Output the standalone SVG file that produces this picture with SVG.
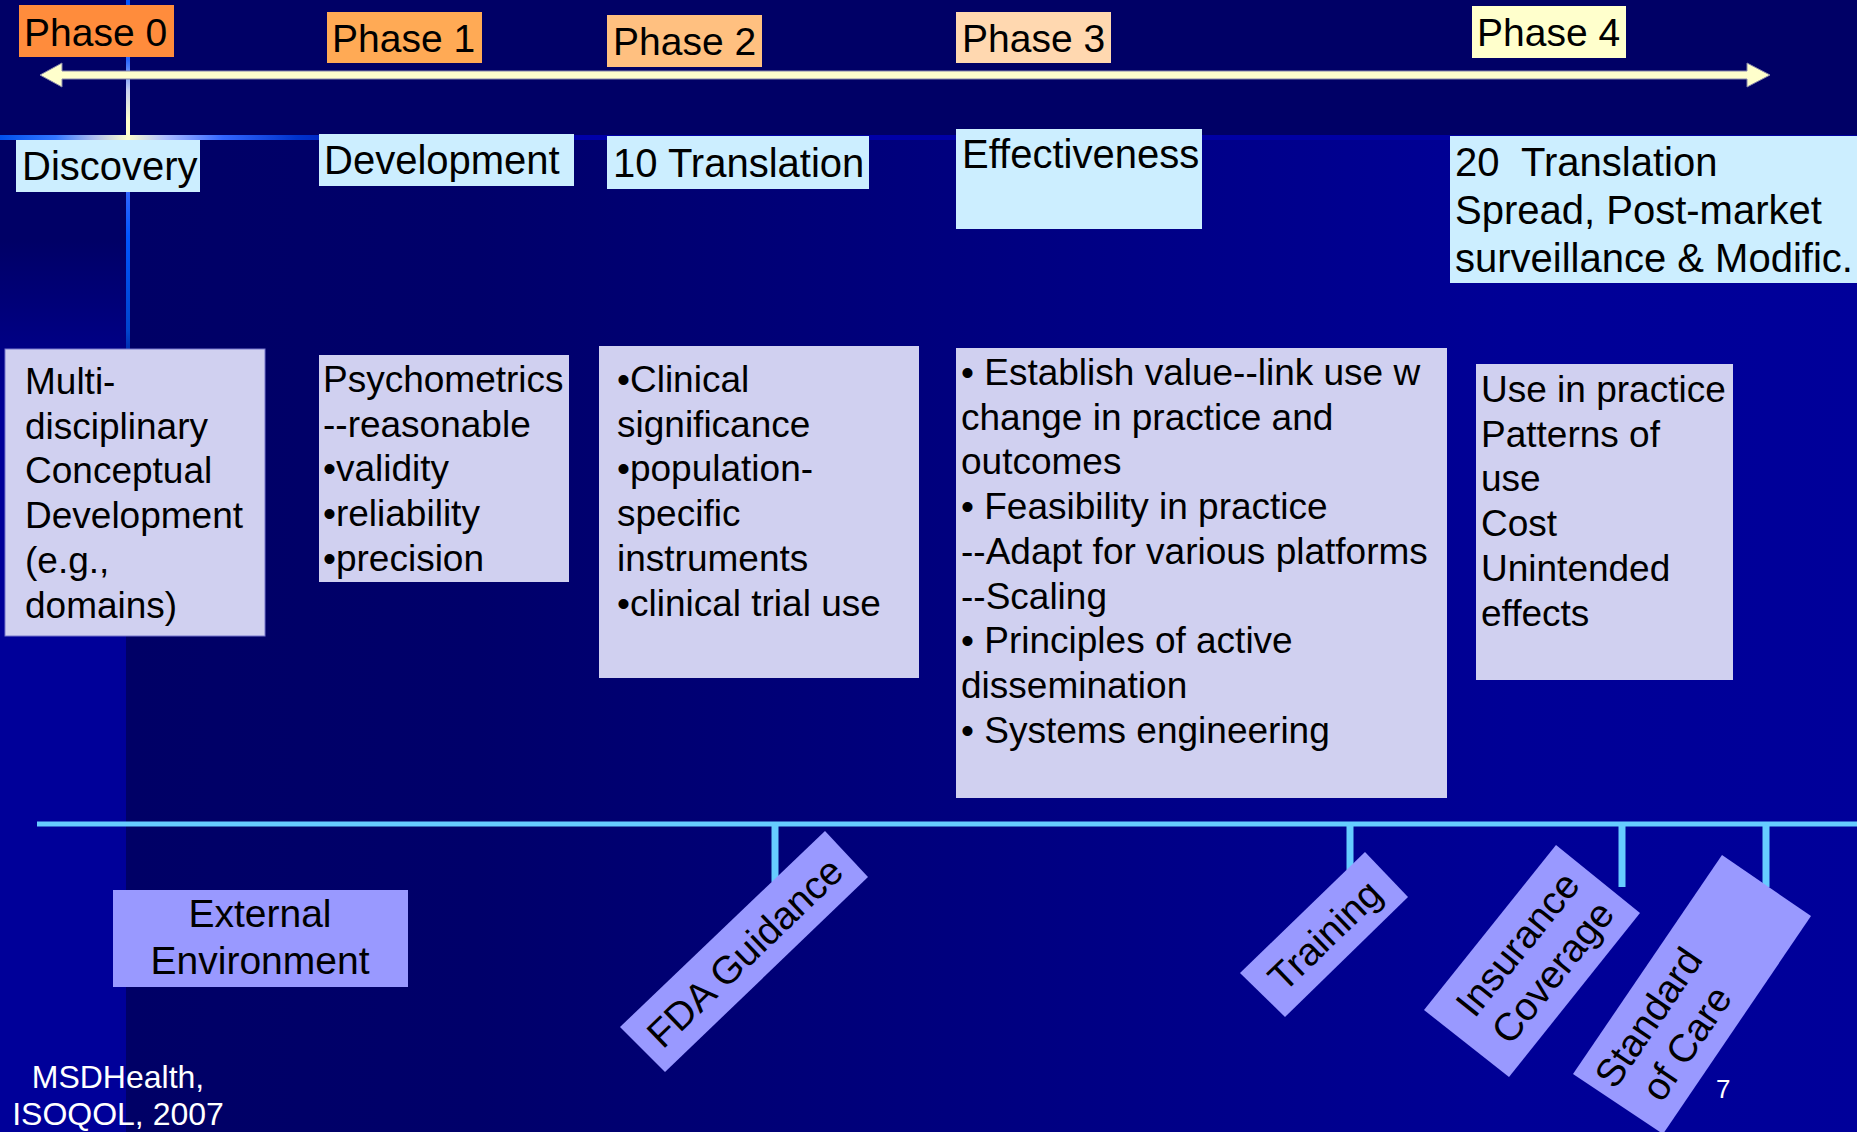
<svg xmlns="http://www.w3.org/2000/svg" width="1857" height="1132" viewBox="0 0 1857 1132">
<defs>
  <linearGradient id="gMain" gradientUnits="userSpaceOnUse" x1="130" y1="0" x2="1857" y2="0">
    <stop offset="0" stop-color="#000066"/>
    <stop offset="0.2" stop-color="#00006a"/>
    <stop offset="0.5" stop-color="#000080"/>
    <stop offset="0.8" stop-color="#000096"/>
    <stop offset="1" stop-color="#00009a"/>
  </linearGradient>
  <linearGradient id="gLeft" gradientUnits="userSpaceOnUse" x1="0" y1="240" x2="0" y2="420">
    <stop offset="0" stop-color="#000066"/>
    <stop offset="1" stop-color="#000099"/>
  </linearGradient>
  <linearGradient id="gV" gradientUnits="userSpaceOnUse" x1="0" y1="0" x2="0" y2="430">
    <stop offset="0" stop-color="#0055ff"/>
    <stop offset="0.14" stop-color="#2a66ff"/>
    <stop offset="0.21" stop-color="#c8d0f0"/>
    <stop offset="0.28" stop-color="#ffffcc"/>
    <stop offset="0.33" stop-color="#ffffcc"/>
    <stop offset="0.44" stop-color="#3366ff"/>
    <stop offset="0.55" stop-color="#0055ff"/>
    <stop offset="0.77" stop-color="#0044cc"/>
    <stop offset="1" stop-color="#000099" stop-opacity="0"/>
  </linearGradient>
  <linearGradient id="gH" gradientUnits="userSpaceOnUse" x1="0" y1="0" x2="1857" y2="0">
    <stop offset="0" stop-color="#0050ee"/>
    <stop offset="0.03" stop-color="#3377ff"/>
    <stop offset="0.05" stop-color="#aabbee"/>
    <stop offset="0.069" stop-color="#ffffcc"/>
    <stop offset="0.09" stop-color="#aabbff"/>
    <stop offset="0.12" stop-color="#3366ff"/>
    <stop offset="0.16" stop-color="#0033cc"/>
    <stop offset="0.22" stop-color="#0000aa"/>
    <stop offset="1" stop-color="#0000a0"/>
  </linearGradient>
</defs>
<style>
  text { font-family: "Liberation Sans", Arial, sans-serif; fill: #000; }
  .ph { font-size: 39px; }
  .lb { font-size: 40px; }
  .ct { font-size: 37px; }
  .tg { font-size: 39px; text-anchor: middle; }
  .ex { font-size: 39px; text-anchor: middle; }
  .cr { font-size: 32px; text-anchor: middle; fill: #fff; }
  .box { fill: #d0d0f0; }
  .lbl { fill: #cceeff; }
  .tag { fill: #9999ff; }
  .conn { stroke: #66ccff; fill: none; }
</style>

<g id="background">
  <rect x="0" y="0" width="1857" height="1132" fill="#000066"/>
  <rect x="130" y="140" width="1727" height="992" fill="url(#gMain)"/>
  <rect x="0" y="140" width="126" height="992" fill="url(#gLeft)"/>
  <rect x="126" y="0" width="4" height="430" fill="url(#gV)"/>
  <rect x="0" y="135" width="1857" height="5" fill="url(#gH)"/>
</g>

<g id="connectors">
  <polygon id="timeline-arrow" points="40,75 62,63 62,71 1747,71 1747,63 1770,75 1747,87 1747,79 62,79 62,87" fill="#ffffcc" stroke="#8888aa" stroke-width="1"/>
  <line class="conn" x1="37" y1="824" x2="1857" y2="824" stroke-width="5"/>
  <line class="conn" x1="775" y1="822" x2="775" y2="882" stroke-width="7"/>
  <line class="conn" x1="1350" y1="822" x2="1350" y2="870" stroke-width="7"/>
  <line class="conn" x1="1622" y1="822" x2="1622" y2="887" stroke-width="7"/>
  <line class="conn" x1="1766" y1="822" x2="1766" y2="887" stroke-width="7"/>
</g>

<g id="phase0">
  <rect x="19" y="5" width="155" height="52" fill="#ff8c3c"/>
  <text class="ph" x="24" y="46">Phase 0</text>
</g>
<g id="phase1">
  <rect x="327" y="12" width="155" height="51" fill="#ffaa55"/>
  <text class="ph" x="332" y="52">Phase 1</text>
</g>
<g id="phase2">
  <rect x="607" y="15" width="155" height="52" fill="#ffc080"/>
  <text class="ph" x="613" y="55">Phase 2</text>
</g>
<g id="phase3">
  <rect x="956" y="12" width="155" height="51" fill="#ffd8b0"/>
  <text class="ph" x="962" y="52">Phase 3</text>
</g>
<g id="phase4">
  <rect x="1472" y="6" width="154" height="52" fill="#ffffcc"/>
  <text class="ph" x="1477" y="46">Phase 4</text>
</g>

<g id="discovery">
  <rect class="lbl" x="16" y="140" width="184" height="52"/>
  <text class="lb" x="22" y="180">Discovery</text>
</g>
<g id="development">
  <rect class="lbl" x="319" y="134" width="255" height="52"/>
  <text class="lb" x="324" y="174">Development</text>
</g>
<g id="translation1">
  <rect class="lbl" x="607" y="136" width="262" height="53"/>
  <text class="lb" x="613" y="177">10 Translation</text>
</g>
<g id="effectiveness">
  <rect class="lbl" x="956" y="129" width="246" height="100"/>
  <text class="lb" x="962" y="168">Effectiveness</text>
</g>
<g id="translation2">
  <rect class="lbl" x="1450" y="136" width="407" height="147"/>
  <text class="lb" x="1455" y="176" xml:space="preserve">20  Translation</text>
  <text class="lb" x="1455" y="224">Spread, Post-market</text>
  <text class="lb" x="1455" y="272">surveillance &amp; Modific.</text>
</g>

<g id="box-discovery">
  <rect class="box" x="5" y="349" width="260" height="287" stroke="#7777cc" stroke-width="1"/>
  <text class="ct" x="25" y="394">Multi-</text>
  <text class="ct" x="25" y="438.7">disciplinary</text>
  <text class="ct" x="25" y="483.4">Conceptual</text>
  <text class="ct" x="25" y="528.1">Development</text>
  <text class="ct" x="25" y="572.8">(e.g.,</text>
  <text class="ct" x="25" y="617.5">domains)</text>
</g>
<g id="box-development">
  <rect class="box" x="319" y="355" width="250" height="227"/>
  <text class="ct" x="323" y="392">Psychometrics</text>
  <text class="ct" x="323" y="436.7">--reasonable</text>
  <text class="ct" x="323" y="481.4">•validity</text>
  <text class="ct" x="323" y="526.1">•reliability</text>
  <text class="ct" x="323" y="570.8">•precision</text>
</g>
<g id="box-translation1">
  <rect class="box" x="599" y="346" width="320" height="332"/>
  <text class="ct" x="617" y="392">•Clinical</text>
  <text class="ct" x="617" y="436.7">significance</text>
  <text class="ct" x="617" y="481.4">•population-</text>
  <text class="ct" x="617" y="526.1">specific</text>
  <text class="ct" x="617" y="570.8">instruments</text>
  <text class="ct" x="617" y="615.5">•clinical trial use</text>
</g>
<g id="box-effectiveness">
  <rect class="box" x="956" y="348" width="491" height="450"/>
  <text class="ct" x="961" y="385">• Establish value--link use w</text>
  <text class="ct" x="961" y="429.7">change in practice and</text>
  <text class="ct" x="961" y="474.4">outcomes</text>
  <text class="ct" x="961" y="519.1">• Feasibility in practice</text>
  <text class="ct" x="961" y="563.8">--Adapt for various platforms</text>
  <text class="ct" x="961" y="608.5">--Scaling</text>
  <text class="ct" x="961" y="653.2">• Principles of active</text>
  <text class="ct" x="961" y="697.9">dissemination</text>
  <text class="ct" x="961" y="742.6">• Systems engineering</text>
</g>
<g id="box-translation2">
  <rect class="box" x="1476" y="364" width="257" height="316"/>
  <text class="ct" x="1481" y="402">Use in practice</text>
  <text class="ct" x="1481" y="446.7">Patterns of</text>
  <text class="ct" x="1481" y="491.4">use</text>
  <text class="ct" x="1481" y="536.1">Cost</text>
  <text class="ct" x="1481" y="580.8">Unintended</text>
  <text class="ct" x="1481" y="625.5">effects</text>
</g>

<g id="external-environment">
  <rect class="tag" x="113" y="890" width="295" height="97"/>
  <text class="ex" x="260" y="927">External</text>
  <text class="ex" x="260" y="974">Environment</text>
</g>

<g id="fda-guidance">
  <polygon class="tag" points="825,831 868,877 665,1072 620,1027"/>
  <text class="tg" transform="translate(744.5,952) rotate(-43.8)" x="0" y="14">FDA Guidance</text>
</g>
<g id="training">
  <polygon class="tag" points="1365,852 1408,897 1285,1017 1240,973"/>
  <text class="tg" transform="translate(1324.5,935) rotate(-44)" x="0" y="14">Training</text>
</g>
<g id="insurance-coverage">
  <polygon class="tag" points="1556,845 1640,913 1509,1077 1424,1010"/>
  <g transform="translate(1535,958) rotate(-51.3)">
    <text class="tg" x="0" y="-9">Insurance</text>
    <text class="tg" x="0" y="36">Coverage</text>
  </g>
</g>
<g id="standard-of-care">
  <polygon class="tag" points="1722,855 1811,916 1663,1134 1573,1074"/>
  <g transform="translate(1667,1030) rotate(-55.8)">
    <text class="tg" x="0" y="-9">Standard</text>
    <text class="tg" x="0" y="37">of Care</text>
  </g>
</g>

<g id="credit">
  <text class="cr" x="118" y="1088">MSDHealth,</text>
  <text class="cr" x="118" y="1125">ISOQOL, 2007</text>
</g>
<g id="page-number">
  <text x="1716" y="1098" font-size="26" style="fill:#fff">7</text>
</g>
</svg>
